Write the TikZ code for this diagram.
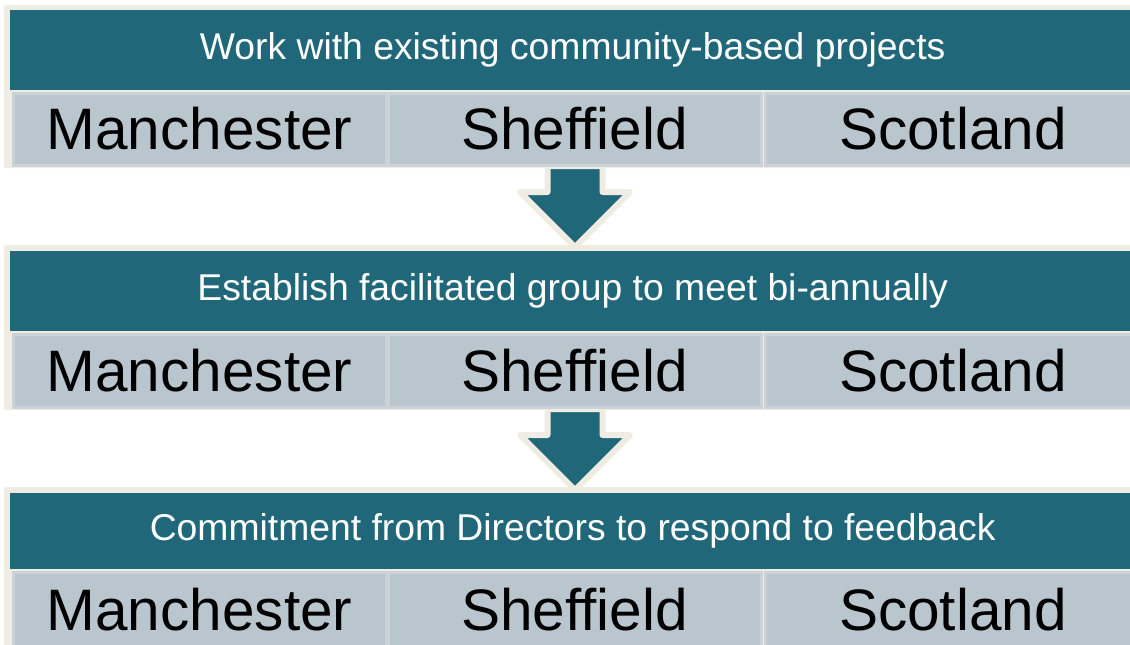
\documentclass[tikz,border=0pt]{standalone}
\usepackage{fontspec}
\setmainfont{Liberation Sans}
\definecolor{teal}{HTML}{21677A}
\definecolor{cream}{HTML}{EFEDE3}
\definecolor{cellgray}{HTML}{BAC6CE}
\definecolor{cellline}{HTML}{CCD3D8}
\tikzset{
  frame/.style={fill=cream, rounded corners=2pt},
  titlebar/.style={fill=teal, text=white, anchor=north west, inner sep=0pt,
    minimum width=1125pt, font=\fontsize{37.3}{40}\selectfont},
  cell/.style={fill=cellgray, draw=cellline, line width=3pt, anchor=north west, inner sep=0pt,
    font=\fontsize{58.5}{62}\selectfont},
  downarrow/.pic={
    \fill[teal, draw=cream, line width=6pt, line join=round]
      (-27.5,0) -- (-27.5,26) -- (-55,26) -- (0,81) -- (55,26) -- (27.5,26) -- (27.5,0) -- cycle;
  }
}
\begin{document}
\begin{tikzpicture}[x=1pt,y=-1pt]
\useasboundingbox (0,0) rectangle (1130,645);
\clip (0,0) rectangle (1130,645);
\fill[white] (0,0) rectangle (1130,645);
% arrows between groups
\pic at (575,166) {downarrow};
\pic at (575,409) {downarrow};
% group 1
\fill[frame] (4,5) rectangle (1140,168);
\node[titlebar, minimum height=80pt] (t1) at (10,10) {Work with existing community-based projects};
\node[cell, minimum width=373pt, minimum height=72pt] (m1) at (11.5,91.5) {Manchester};
\node[cell, minimum width=373pt, minimum height=72pt] (s1) at (386.5,91.5) {Sheffield};
\node[cell, minimum width=376pt, minimum height=72pt] (c1) at (763.5,91.5) {Scotland};
% group 2
\fill[frame] (4,245) rectangle (1140,410);
\node[titlebar, minimum height=80pt] (t2) at (10,251) {Establish facilitated group to meet bi-annually};
\node[cell, minimum width=373pt, minimum height=73pt] (m2) at (11.5,332.5) {Manchester};
\node[cell, minimum width=373pt, minimum height=73pt] (s2) at (386.5,332.5) {Sheffield};
\node[cell, minimum width=376pt, minimum height=73pt] (c2) at (763.5,332.5) {Scotland};
% group 3
\fill[frame] (4,487) rectangle (1140,652);
\node[titlebar, minimum height=76pt] (t3) at (10,493) {Commitment from Directors to respond to feedback};
\node[cell, minimum width=373pt, minimum height=75pt] (m3) at (11.5,570.5) {Manchester};
\node[cell, minimum width=373pt, minimum height=75pt] (s3) at (386.5,570.5) {Sheffield};
\node[cell, minimum width=376pt, minimum height=75pt] (c3) at (763.5,570.5) {Scotland};
\end{tikzpicture}
\end{document}
